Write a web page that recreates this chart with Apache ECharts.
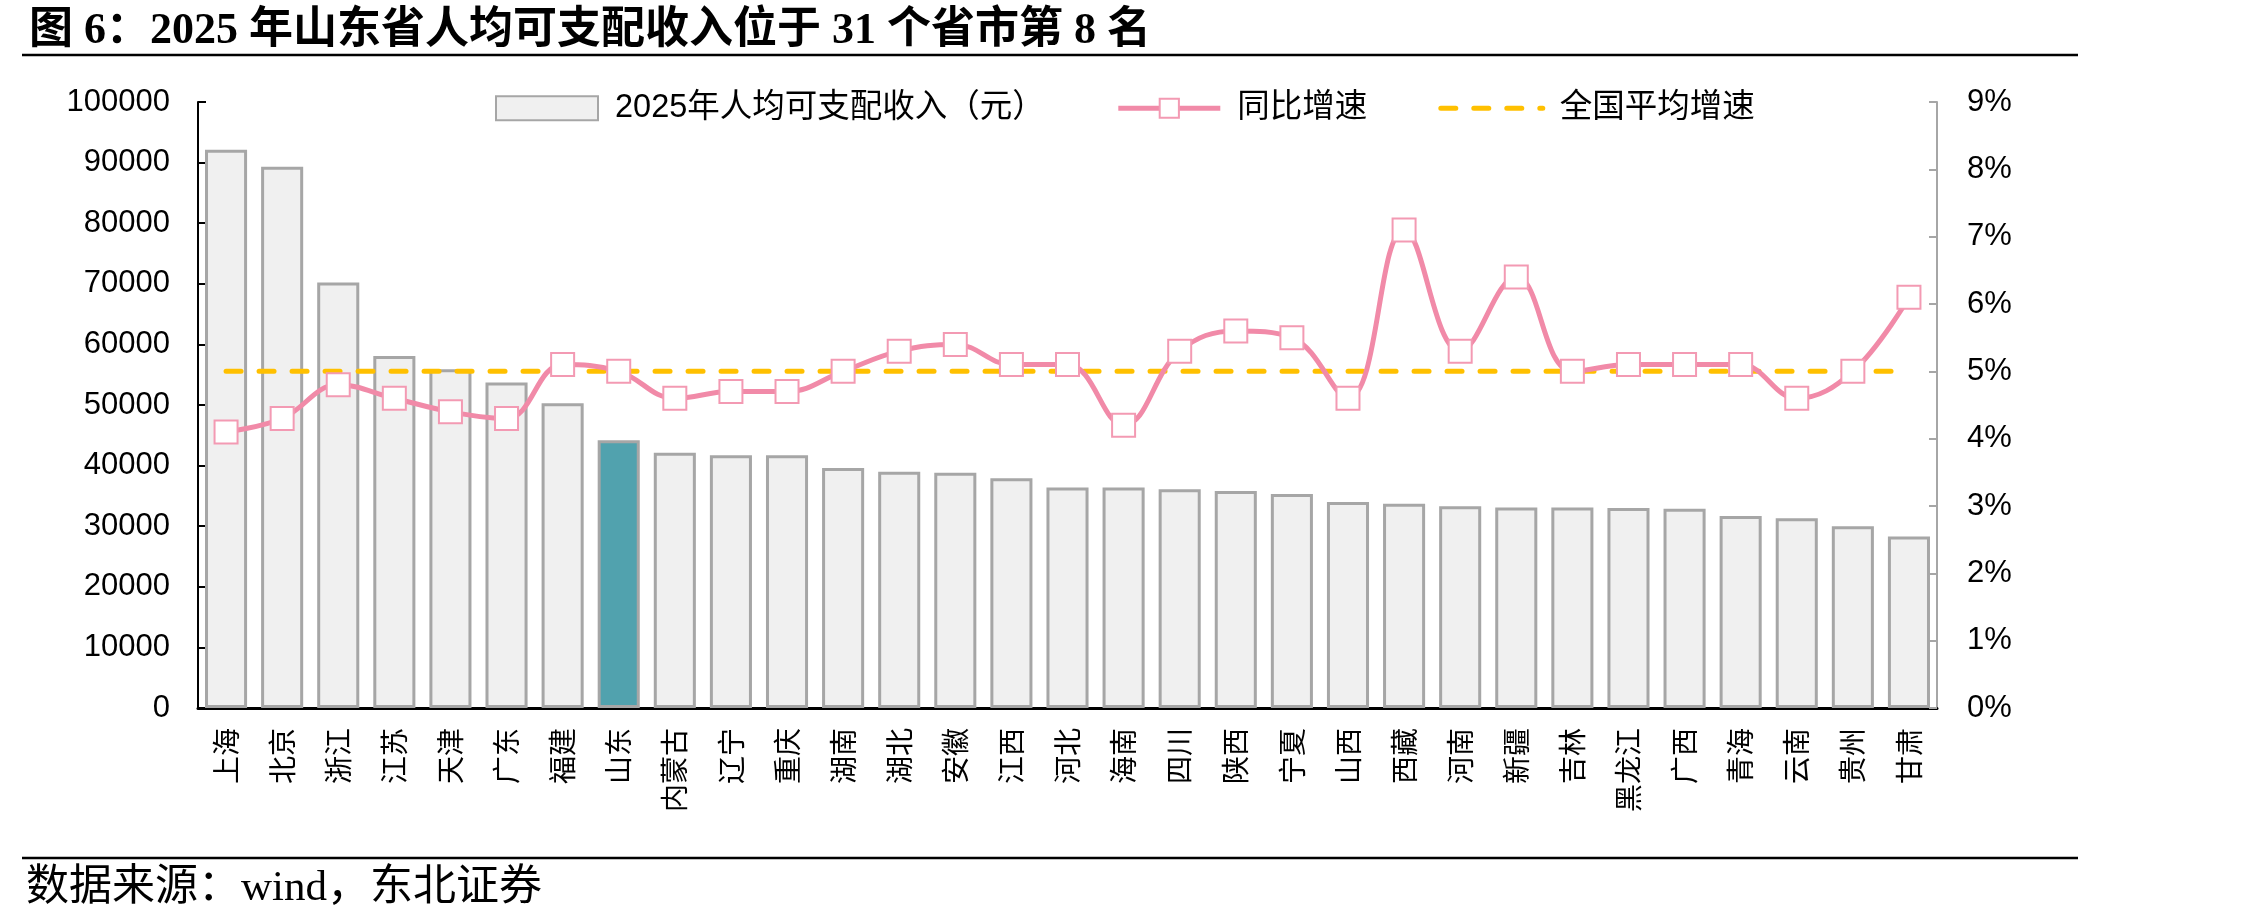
<!DOCTYPE html>
<html>
<head>
<meta charset="utf-8">
<title>图6 山东省人均可支配收入</title>
<script src="https://cdn.jsdelivr.net/npm/echarts@6/dist/echarts.min.js"></script>
<style>
	html, body { margin: 0; padding: 0; background: #fff; }
	#chart { width: 2268px; height: 923px; }
</style>
</head>
<body>
<div id="chart"></div>
<script>
// 省市（按收入排序）
var provinces = ['上海', '北京', '浙江', '江苏', '天津', '广东', '福建', '山东', '内蒙古', '辽宁',
	'重庆', '湖南', '湖北', '安徽', '江西', '河北', '海南', '四川', '陕西', '宁夏',
	'山西', '西藏', '河南', '新疆', '吉林', '黑龙江', '广西', '青海', '云南', '贵州', '甘肃']

// 2025年人均可支配收入（元）
var income = [92100, 89300, 70200, 58100, 55900, 53700, 50300, 44200, 42100, 41700,
	41700, 39600, 39000, 38800, 37900, 36400, 36400, 36100, 35800, 35300,
	34000, 33700, 33300, 33100, 33100, 33000, 32900, 31700, 31300, 30000, 28300]

// 同比增速（%）
var growth = [4.1, 4.3, 4.8, 4.6, 4.4, 4.3, 5.1, 5.0, 4.6, 4.7,
	4.7, 5.0, 5.3, 5.4, 5.1, 5.1, 4.2, 5.3, 5.6, 5.5,
	4.6, 7.1, 5.3, 6.4, 5.0, 5.1, 5.1, 5.1, 4.6, 5.0, 6.1]

// 全国平均增速（%）
var avgGrowth = 5.0

var highlight = '山东'	// 高亮省份

var leftTicks = { min: 0, max: 100000, interval: 10000 }
var rightTicks = { min: 0, max: 9, interval: 1 }

var fontLatin = "'Liberation Sans', 'Noto Sans CJK SC', sans-serif"
var fontCJK = "'Noto Sans CJK SC', sans-serif"
var fontSerif = "'Liberation Serif', 'Noto Sans CJK SC', serif"

var pink = '#F18AA8'
var yellow = '#FFC000'

var chart = echarts.init(document.getElementById('chart'), null, { renderer: 'canvas' })

var option = {}
option.animation = false
option.backgroundColor = '#fff'

option.title = {
	text: '图 6：2025 年山东省人均可支配收入位于 31 个省市第 8 名',
	left: 24,
	top: 5,
	textStyle: {
		fontFamily: fontSerif,
		fontWeight: 'bold',
		fontSize: 44,
		color: '#000'
	}
}

option.legend = {
	left: 490,
	top: 87,
	itemWidth: 102,
	itemHeight: 24,
	itemGap: 71,
	textStyle: {
		fontFamily: fontLatin,
		fontSize: 32.5,
		color: '#000',
		padding: [0, 0, 0, 12]
	},
	data: [{
		name: '2025年人均可支配收入（元）',
		icon: 'rect'
	}, {
		name: '同比增速',
		lineStyle: { width: 5, color: pink }
	}, {
		name: '全国平均增速',
		lineStyle: { width: 5, color: yellow, type: [15, 18], cap: 'round' },
		itemStyle: { opacity: 0 }
	}]
}

// 方向大小定位
option.grid = {
	left: 198,
	right: 331,
	top: 102,
	bottom: 215
}

option.xAxis = {
	type: 'category',
	data: provinces,
	axisLine: { lineStyle: { color: '#000', width: 3 } },
	axisTick: { inside: true, length: 9, lineStyle: { color: '#000', width: 2 } },
	axisLabel: {
		rotate: 90,
		margin: 20,
		fontFamily: fontCJK,
		fontSize: 28,
		color: '#000'
	}
}

option.yAxis = [{
	type: 'value',
	min: leftTicks.min,
	max: leftTicks.max,
	interval: leftTicks.interval,
	axisLine: { show: true, lineStyle: { color: '#000', width: 2 } },
	axisTick: { show: true, inside: true, length: 8, lineStyle: { color: '#000', width: 2 } },
	splitLine: { show: false },
	axisLabel: {
		margin: 28,
		fontFamily: fontLatin,
		fontSize: 31,
		color: '#000',
		formatter: function (v) { return String(v) }
	}
}, {
	type: 'value',
	position: 'right',
	min: rightTicks.min,
	max: rightTicks.max,
	interval: rightTicks.interval,
	axisLine: { show: true, lineStyle: { color: '#A6A6A6', width: 2 } },
	axisTick: { show: true, inside: true, length: 8, lineStyle: { color: '#A6A6A6', width: 2 } },
	splitLine: { show: false },
	axisLabel: { margin: 30, fontFamily: fontLatin, fontSize: 31, color: '#000', formatter: '{value}%' }
}]

option.series = [{
	name: '2025年人均可支配收入（元）',
	type: 'bar',
	barCategoryGap: '25%',
	itemStyle: { color: '#F0F0F0', borderColor: '#A6A6A6', borderWidth: 3 },
	data: income.map(function (v, i) {
		if (provinces[i] !== highlight) return v
		return { value: v, itemStyle: { color: '#51A2AE' } }
	}),
	z: 1
}, {
	name: '同比增速',
	type: 'line',
	yAxisIndex: 1,
	smooth: 0.4,
	symbol: 'rect',
	symbolSize: 23,
	lineStyle: { color: pink, width: 5 },
	itemStyle: { color: '#fff', borderColor: '#F39AB3', borderWidth: 2 },
	data: growth,
	z: 4
}, {
	name: '全国平均增速',
	type: 'line',
	yAxisIndex: 1,
	symbol: 'none',
	lineStyle: { color: yellow, width: 5, type: [15, 18], cap: 'round' },
	itemStyle: { color: yellow },
	data: provinces.map(function () { return avgGrowth }),
	z: 3
}]

// 标题下横线、底部横线、数据来源
option.graphic = [{
	type: 'line',
	shape: { x1: 22, y1: 55, x2: 2078, y2: 55 },
	style: { stroke: '#000', lineWidth: 2.5 }
}, {
	type: 'line',
	shape: { x1: 22, y1: 858, x2: 2078, y2: 858 },
	style: { stroke: '#000', lineWidth: 2.5 }
}, {
	type: 'text',
	left: 26,
	top: 867,
	style: {
		text: '数据来源：wind，东北证券',
		fontFamily: fontSerif,
		fontSize: 43,
		fill: '#000'
	}
}]

chart.setOption(option)
</script>
</body>
</html>
